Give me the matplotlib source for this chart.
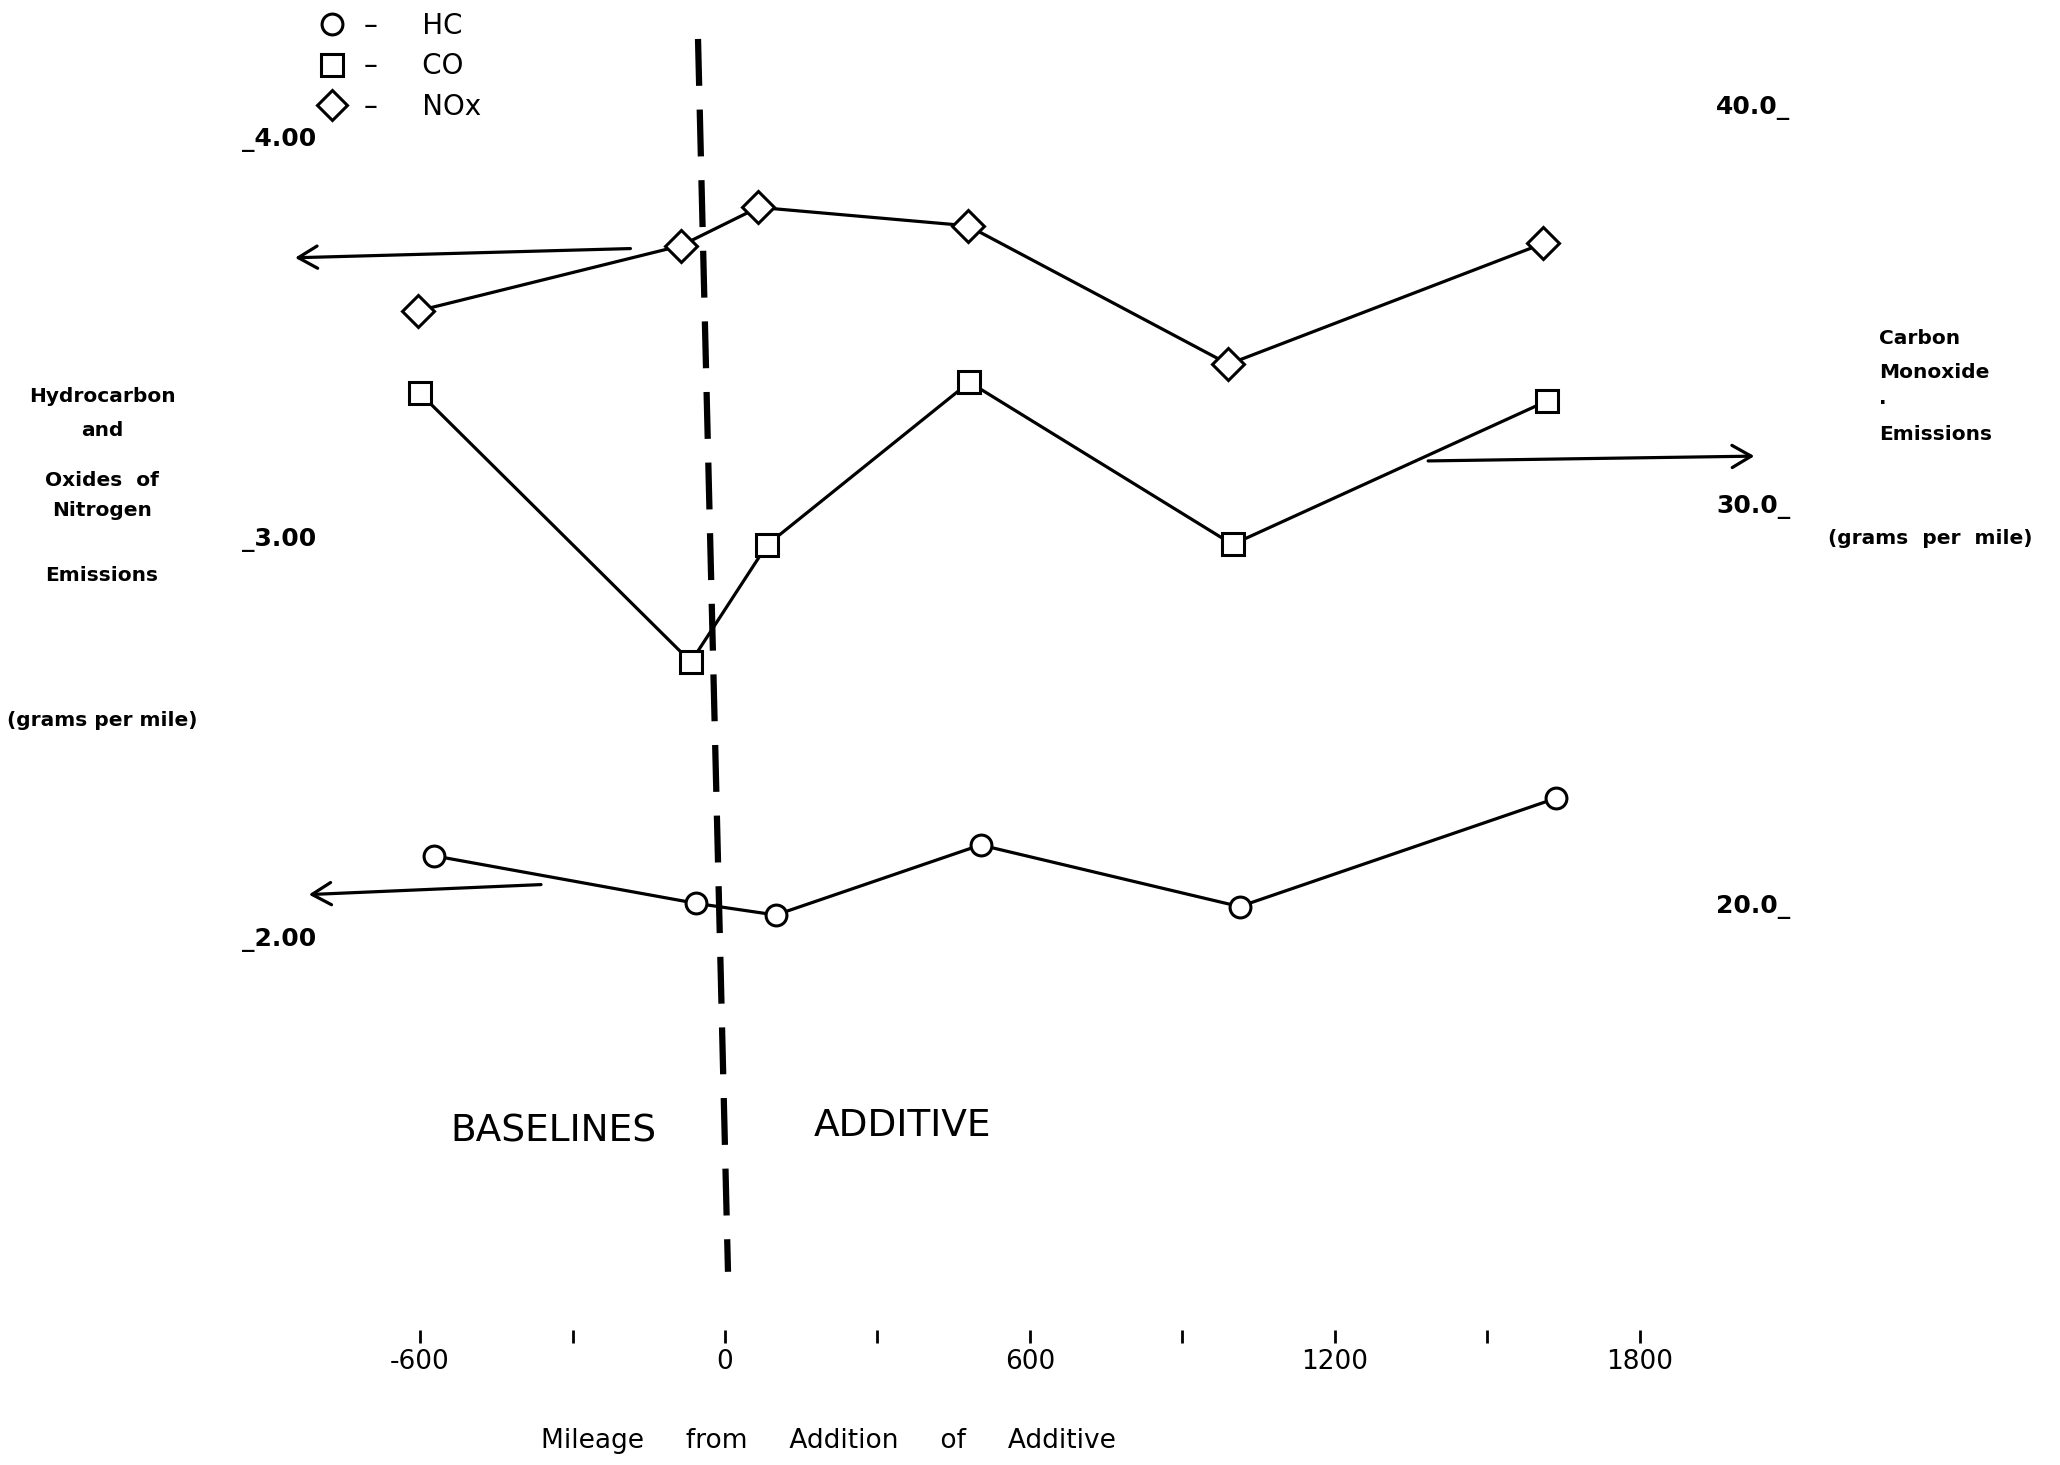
import matplotlib
matplotlib.use("Agg")
import matplotlib.pyplot as plt
from matplotlib.lines import Line2D

# miles from addition of additive (hand-plotted, so x drifts a little per series)
nox_miles = [-605, -87, 66, 478, 991, 1611]
nox_gpm = [3.564, 3.727, 3.823, 3.777, 3.431, 3.733]

co_miles = [-600, -67, 83, 481, 999, 1618]
co_gpm = [32.78, 26.06, 28.99, 33.06, 29.00, 32.59]

hc_miles = [-573, -56, 100, 503, 1013, 1636]
hc_gpm = [2.202, 2.083, 2.054, 2.229, 2.075, 2.346]

x_major = [-600, 0, 600, 1200, 1800]
x_minor = [-300, 300, 900, 1500]
left_ticks = [2.0, 3.0, 4.0]
left_labels = ["_2.00", "_3.00", "_4.00"]
right_ticks = [20.0, 30.0, 40.0]
right_labels = ["20.0_", "30.0_", "40.0_"]

# dashed divider between baseline and additive runs
divider_x = [-53, 6]
divider_y = [4.244, 1.162]

fig = plt.figure(figsize=(20.6, 14.65), dpi=100)
ax = fig.add_axes([0.1578, 0.09215, 0.6699, 0.8874])
ax2 = ax.twinx()

ax.set_xlim(-787, 1929)
ax.set_ylim(1.0165, 4.2665)
ax2.set_ylim(9.337, 41.877)

for a in (ax, ax2):
    for s in a.spines.values():
        s.set_visible(False)

line_kw = dict(color="black", lw=2.3, mfc="white", mec="black", mew=2.2, zorder=3)
ax.plot(nox_miles, nox_gpm, marker="D", ms=16, **line_kw)
ax.plot(hc_miles, hc_gpm, marker="o", ms=15, **line_kw)
ax2.plot(co_miles, co_gpm, marker="s", ms=16.5, **line_kw)

ax.plot(divider_x, divider_y, color="black", lw=4.5, dashes=(7.5, 3.8),
        dash_capstyle="butt", zorder=2)

arrow = dict(arrowstyle="->,head_length=0.55,head_width=0.32", lw=2.3,
             color="black", shrinkA=0, shrinkB=0, mutation_scale=25)
ax.annotate("", xy=(-846, 3.697), xytext=(-186, 3.720), arrowprops=arrow,
            annotation_clip=False)
ax.annotate("", xy=(-819, 2.105), xytext=(-362, 2.130), arrowprops=arrow,
            annotation_clip=False)
ax2.annotate("", xy=(2026, 31.21), xytext=(1384, 31.09), arrowprops=arrow,
             annotation_clip=False)

ax.text(-337, 1.512, "BASELINES", fontsize=27, ha="center", va="center")
ax.text(350, 1.527, "ADDITIVE", fontsize=27, ha="center", va="center")

ax.set_xticks(x_major)
ax.set_xticklabels([str(v) for v in x_major], fontsize=19)
ax.set_xticks(x_minor, minor=True)
ax.tick_params(axis="x", which="both", direction="out", length=9, width=2.0,
               pad=5, bottom=True, top=False)
ax.set_yticks(left_ticks)
ax.set_yticklabels(left_labels, fontsize=18, fontweight="bold")
ax.tick_params(axis="y", length=0, pad=6)
ax2.set_yticks(right_ticks)
ax2.set_yticklabels(right_labels, fontsize=18, fontweight="bold")
ax2.tick_params(axis="y", length=0, pad=8)

ax.set_xlabel("Mileage     from     Addition     of     Additive", fontsize=19)
ax.xaxis.set_label_coords(0.365, -0.075)

# left-hand axis caption
left_caption = [("Hydrocarbon", 397), ("and", 430), ("Oxides  of", 480),
                ("Nitrogen", 511), ("Emissions", 575), ("(grams per mile)", 720)]
for txt, ypx in left_caption:
    fig.text(102 / 2060, 1 - ypx / 1465, txt, fontsize=14.5, fontweight="bold",
             ha="center", va="center")

right_caption = [("Carbon", 339), ("Monoxide", 372), (".", 398), ("Emissions", 434)]
for txt, ypx in right_caption:
    fig.text(1879 / 2060, 1 - ypx / 1465, txt, fontsize=14.5, fontweight="bold",
             ha="left", va="center")
fig.text(1930 / 2060, 1 - 539 / 1465, "(grams  per  mile)", fontsize=14.5,
         fontweight="bold", ha="center", va="center")

handles = [
    Line2D([], [], ls="none", marker="o", ms=15, mfc="white", mec="black", mew=2.2),
    Line2D([], [], ls="none", marker="s", ms=16, mfc="white", mec="black", mew=2.2),
    Line2D([], [], ls="none", marker="D", ms=15, mfc="white", mec="black", mew=2.2),
]
fig.legend(handles, ["–     HC", "–     CO", "–     NOx"], loc="upper left",
           bbox_to_anchor=(317 / 2060, 1 - 12 / 1465), frameon=False,
           fontsize=20, borderpad=0, borderaxespad=0, handlelength=1.1,
           handletextpad=0.6, labelspacing=0.45)

fig.savefig("out.png", dpi=100, facecolor="white")
